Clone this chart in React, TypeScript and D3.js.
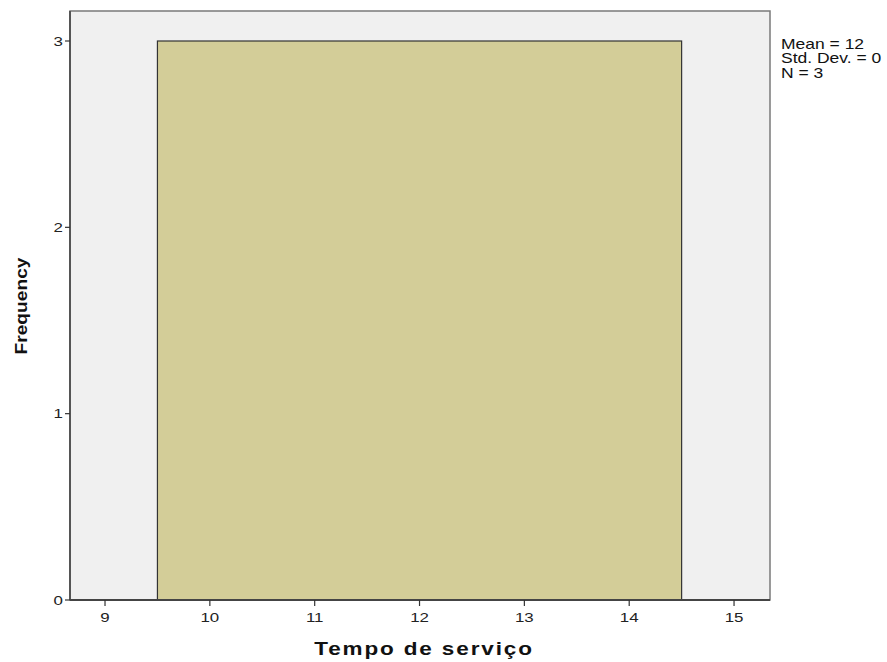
import React from "react";
import * as d3 from "d3";

const binEdges = [9.5, 14.5];
const frequencies = [3];
const xTicks = [9, 10, 11, 12, 13, 14, 15];
const yTicks = [0, 1, 2, 3];
const statsLines = ["Mean = 12", "Std. Dev. = 0", "N = 3"];
const xTitle = "Tempo de serviço";
const yTitle = "Frequency";

export default function App() {
  const W = 887, H = 662;
  const left = 70, right = 770, top = 11, bottom = 600;
  const x = d3.scaleLinear().domain([8.666, 15.343]).range([left, right]);
  const y = d3.scaleLinear().domain([0, 3]).range([bottom, 41]);
  const font = "'Liberation Sans', Arial, sans-serif";
  return (
    <svg width={W} height={H} style={{ position: "absolute", left: 0, top: 0 }}>
      <rect x={0} y={0} width={W} height={H} fill="#ffffff" />
      <rect x={left} y={top} width={right - left} height={bottom - top} fill="#f0f0f0" stroke="#7a7a7a" strokeWidth={1.5} />
      {frequencies.map((f, i) => (
        <rect
          key={i}
          x={x(binEdges[i])}
          y={y(f)}
          width={x(binEdges[i + 1]) - x(binEdges[i])}
          height={y(0) - y(f)}
          fill="#d3cd98"
          stroke="#333333"
          strokeWidth={1.2}
        />
      ))}
      <line x1={left} x2={left} y1={top} y2={bottom} stroke="#555" strokeWidth={2} />
      <line x1={left} x2={right} y1={bottom} y2={bottom} stroke="#444" strokeWidth={2} />
      {yTicks.map((t) => (
        <g key={t}>
          <line x1={left - 5} x2={left} y1={y(t)} y2={y(t)} stroke="#333" strokeWidth={1.2} />
          <text transform={`translate(${left - 7}, ${y(t)}) scale(1.3,1)`} dy="0.35em" textAnchor="end" fontFamily={font} fontSize={13} fill="#222">{t}</text>
        </g>
      ))}
      {xTicks.map((t) => (
        <g key={t}>
          <line x1={x(t)} x2={x(t)} y1={bottom} y2={bottom + 6} stroke="#333" strokeWidth={1.2} />
          <text transform={`translate(${x(t)}, ${bottom + 22}) scale(1.3,1)`} textAnchor="middle" fontFamily={font} fontSize={13} fill="#222">{t}</text>
        </g>
      ))}
      <text transform="translate(424, 655) scale(1.25,1)" textAnchor="middle" fontFamily={font} fontSize={18} fontWeight="bold" letterSpacing={1.5} fill="#111">{xTitle}</text>
      <text transform="translate(27, 306) rotate(-90) scale(1.13,1)" textAnchor="middle" fontFamily={font} fontSize={17} fontWeight="bold" fill="#111">{yTitle}</text>
      {statsLines.map((s, i) => (
        <text key={i} transform={`translate(781, ${49 + i * 14.3}) scale(1.25,1)`} fontFamily={font} fontSize={14} fill="#111">{s}</text>
      ))}
    </svg>
  );
}
